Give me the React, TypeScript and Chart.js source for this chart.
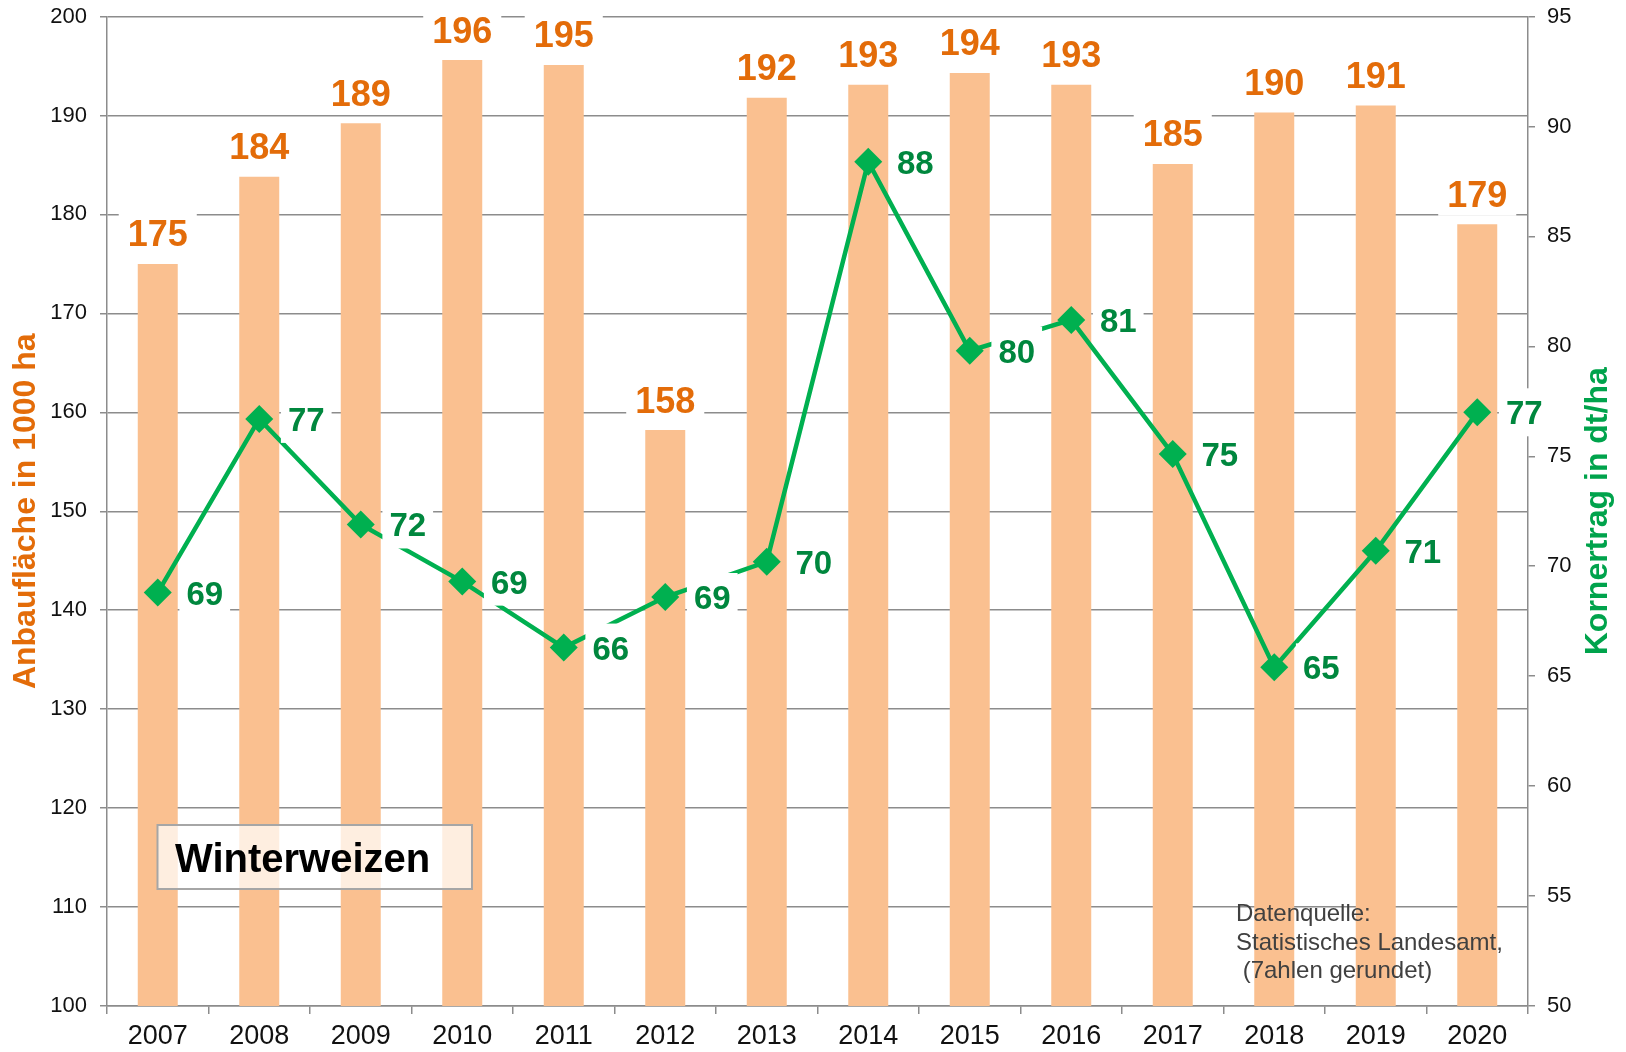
import React, { useEffect, useRef } from 'react';
import { Chart, registerables } from 'chart.js';

Chart.register(...registerables);

const years = ['2007', '2008', '2009', '2010', '2011', '2012', '2013', '2014', '2015', '2016', '2017', '2018', '2019', '2020'];
const areaValues = [175.0, 183.8, 189.2, 195.6, 195.1, 158.2, 191.8, 193.1, 194.3, 193.1, 185.1, 190.3, 191.0, 179.0];
const yieldValues = [68.8, 76.7, 71.9, 69.3, 66.3, 68.6, 70.2, 88.4, 79.8, 81.2, 75.1, 65.4, 70.7, 77.0];
const leftAxisRange = [100, 200];
const leftAxisStep = 10;
const rightAxisRange = [50, 95];
const rightAxisStep = 5;
const leftAxisTitle = 'Anbaufläche in 1000 ha';
const rightAxisTitle = 'Kornertrag in dt/ha';
const boxTitle = 'Winterweizen';
const sourceLines = ['Datenquelle:', 'Statistisches Landesamt,', ' (7ahlen gerundet)'];

const FONT = '"Liberation Sans", Arial, sans-serif';
const ORANGE = '#E36C09';
const BAR = '#FAC090';
const GREEN = '#00B050';
const GREEN_TEXT = '#00873E';
const GREEN_TITLE = '#00A34C';
const GRID = '#8C8C8C';

const LINE_INDEX = 0;
const BAR_INDEX = 1;

const overlayPlugin = {
  id: 'overlayLabels',
  afterDraw(chart: any) {
    const ctx = chart.ctx as CanvasRenderingContext2D;
    const area = chart.chartArea;
    ctx.save();

    // Title box
    ctx.fillStyle = 'rgba(255,255,255,0.72)';
    ctx.fillRect(157.5, 825, 314.5, 64);
    ctx.strokeStyle = '#A6A6A6';
    ctx.lineWidth = 2;
    ctx.strokeRect(157.5, 825, 314.5, 64);
    ctx.fillStyle = '#000000';
    ctx.font = `bold 40px ${FONT}`;
    ctx.textAlign = 'left';
    ctx.textBaseline = 'alphabetic';
    ctx.fillText(boxTitle, 175, 872);

    // Source text
    ctx.fillStyle = '#404040';
    ctx.font = `24px ${FONT}`;
    sourceLines.forEach((line, i) => {
      ctx.fillText(line, 1236, 921 + i * 28.5);
    });

    // Bar labels
    const barMeta = chart.getDatasetMeta(BAR_INDEX);
    ctx.font = `bold 36px ${FONT}`;
    ctx.textAlign = 'center';
    barMeta.data.forEach((el: any, i: number) => {
      const txt = String(Math.round(areaValues[i]));
      const w = ctx.measureText(txt).width;
      const cy = el.y - 30.5;
      ctx.fillStyle = '#ffffff';
      ctx.fillRect(el.x - w / 2 - 9, cy - 22, w + 18, 44);
      ctx.fillStyle = ORANGE;
      ctx.fillText(txt, el.x, cy + 13);
    });

    // Line labels
    const lineMeta = chart.getDatasetMeta(LINE_INDEX);
    ctx.font = `bold 33px ${FONT}`;
    lineMeta.data.forEach((el: any, i: number) => {
      const txt = String(Math.round(yieldValues[i]));
      const w = ctx.measureText(txt).width;
      const cx = el.x + 47;
      ctx.fillStyle = '#ffffff';
      ctx.fillRect(cx - w / 2 - 7, el.y - 24, w + 14, 48);
      ctx.fillStyle = GREEN_TEXT;
      ctx.fillText(txt, cx, el.y + 12);
    });

    // Axis titles
    const midY = (area.top + area.bottom) / 2;
    ctx.font = `bold 32px ${FONT}`;
    ctx.textBaseline = 'middle';
    ctx.save();
    ctx.translate(26, midY);
    ctx.rotate(-Math.PI / 2);
    ctx.fillStyle = ORANGE;
    ctx.fillText(leftAxisTitle, 0, 0);
    ctx.restore();
    ctx.save();
    ctx.translate(1598, midY);
    ctx.rotate(-Math.PI / 2);
    ctx.fillStyle = GREEN_TITLE;
    ctx.fillText(rightAxisTitle, 0, 0);
    ctx.restore();

    ctx.restore();
  },
};

export default function App() {
  const canvasRef = useRef<HTMLCanvasElement | null>(null);

  useEffect(() => {
    if (!canvasRef.current) return;
    const chart = new Chart(canvasRef.current, {
      data: {
        labels: years,
        datasets: [
          {
            type: 'line' as const,
            label: 'Kornertrag',
            data: yieldValues,
            yAxisID: 'y1',
            borderColor: GREEN,
            borderWidth: 4.5,
            pointStyle: 'rectRot',
            pointRadius: 14,
            pointBackgroundColor: GREEN,
            pointBorderWidth: 0,
            tension: 0,
            order: 0,
          },
          {
            type: 'bar' as const,
            label: 'Anbaufläche',
            data: areaValues,
            yAxisID: 'y',
            backgroundColor: BAR,
            borderWidth: 0,
            barPercentage: 0.394,
            categoryPercentage: 1,
            order: 1,
          },
        ],
      },
      options: {
        responsive: false,
        animation: false,
        layout: { padding: { top: 16.5, left: 0, right: 0, bottom: 0 } },
        plugins: {
          legend: { display: false },
          tooltip: { enabled: false },
          title: { display: false },
        },
        scales: {
          x: {
            type: 'category',
            offset: true,
            grid: {
              drawOnChartArea: false,
              drawTicks: true,
              offset: true,
              tickLength: 8,
              color: GRID,
              lineWidth: 1.5,
            },
            border: { display: true, color: GRID, width: 1.5 },
            ticks: {
              color: '#111111',
              font: { family: FONT, size: 27 },
              padding: 6,
              maxRotation: 0,
              autoSkip: false,
            },
            afterFit: (scale: any) => {
              scale.height = 46;
              scale.paddingLeft = 0;
              scale.paddingRight = 0;
            },
          },
          y: {
            type: 'linear',
            position: 'left',
            min: leftAxisRange[0],
            max: leftAxisRange[1],
            ticks: {
              stepSize: leftAxisStep,
              color: '#111111',
              font: { family: FONT, size: 22 },
              padding: 13,
            },
            grid: {
              drawOnChartArea: true,
              drawTicks: true,
              tickLength: 7,
              color: GRID,
              lineWidth: 1.5,
            },
            border: { display: true, color: GRID, width: 1.5 },
            afterFit: (scale: any) => {
              scale.width = 107;
              scale.paddingTop = 0;
              scale.paddingBottom = 0;
            },
          },
          y1: {
            type: 'linear',
            position: 'right',
            min: rightAxisRange[0],
            max: rightAxisRange[1],
            ticks: {
              stepSize: rightAxisStep,
              color: '#111111',
              font: { family: FONT, size: 22 },
              padding: 12,
            },
            grid: {
              drawOnChartArea: false,
              drawTicks: true,
              tickLength: 7,
              color: GRID,
              lineWidth: 1.5,
            },
            border: { display: true, color: GRID, width: 1.5 },
            afterFit: (scale: any) => {
              scale.width = 98;
              scale.paddingTop = 0;
              scale.paddingBottom = 0;
            },
          },
        },
      },
      plugins: [overlayPlugin],
    } as any);
    return () => {
      chart.destroy();
    };
  }, []);

  return (
    <div style={{ position: 'absolute', left: 0, top: 0, width: 1626, height: 1052, background: '#ffffff' }}>
      <canvas ref={canvasRef} width={1626} height={1052} style={{ display: 'block', width: 1626, height: 1052 }} />
    </div>
  );
}
